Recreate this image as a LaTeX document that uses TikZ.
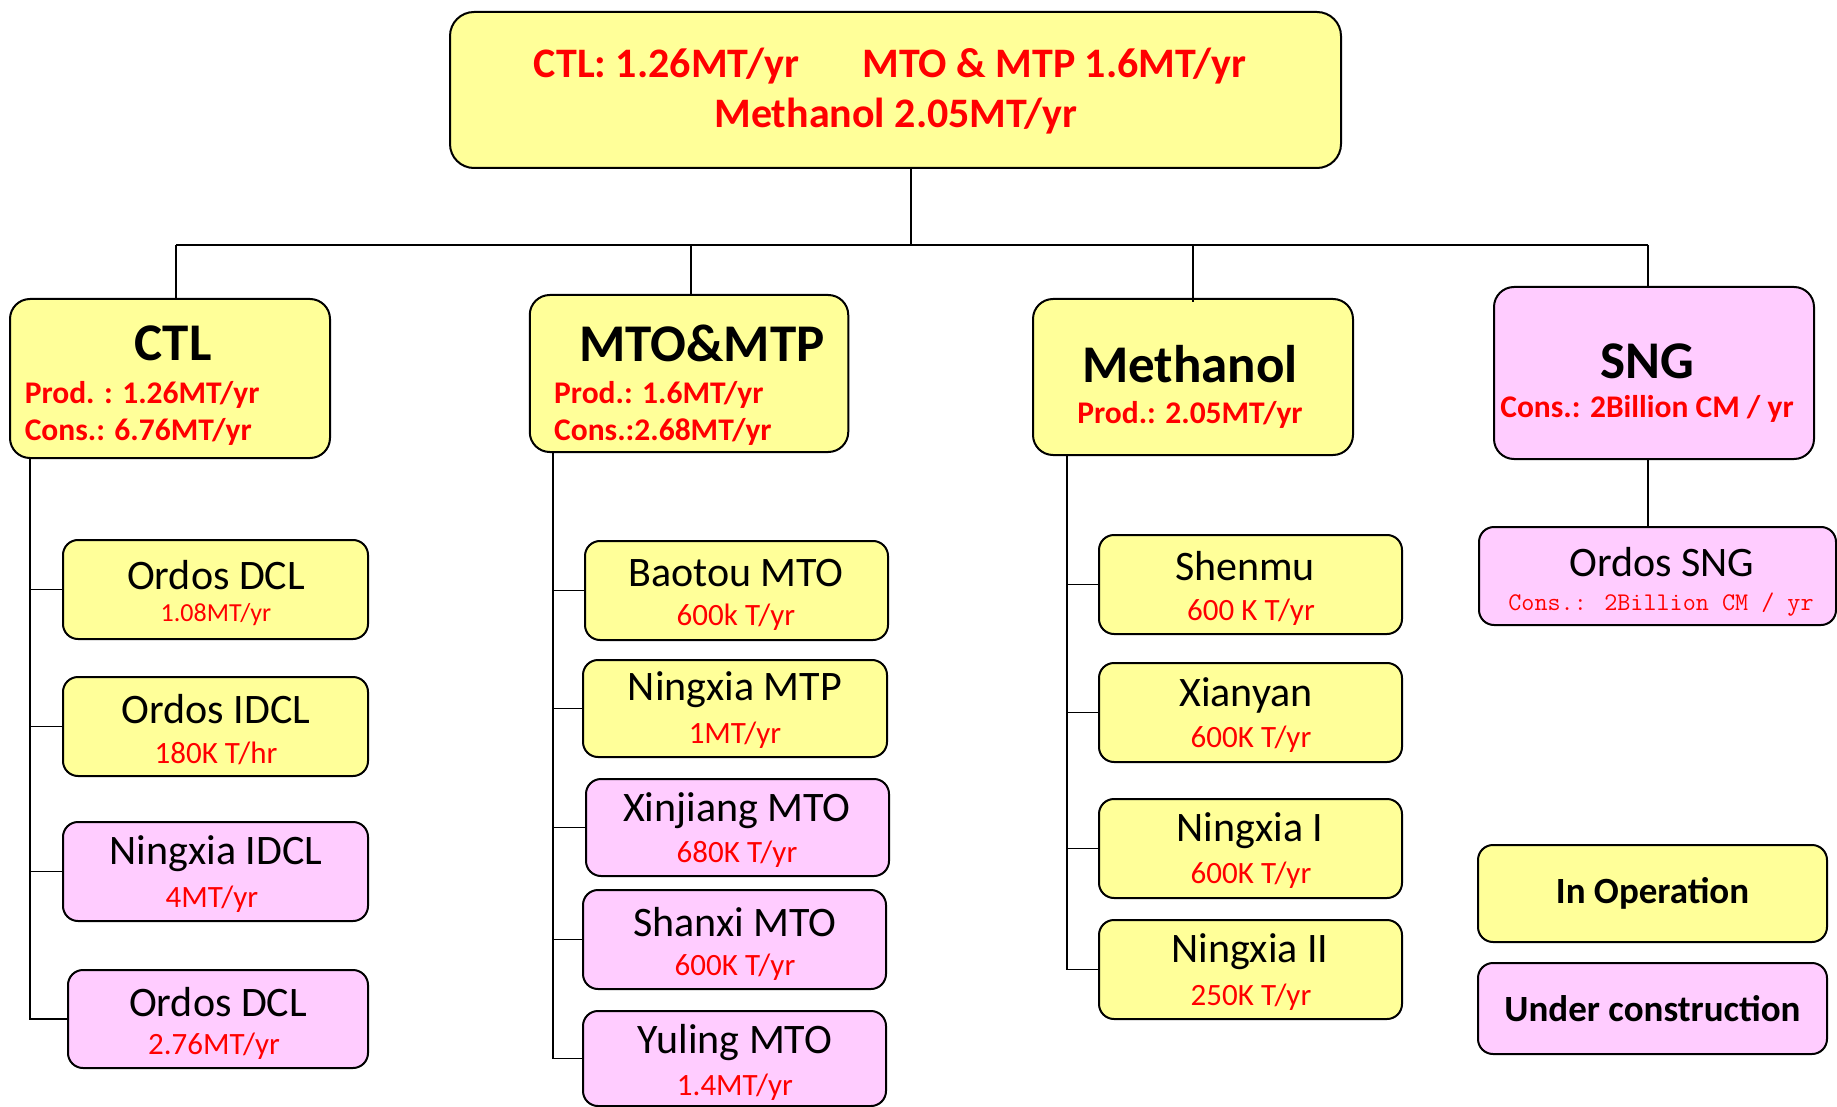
\documentclass[tikz,border=0pt]{standalone}
\usepackage{fontspec}
\setmainfont{Carlito}
\definecolor{ylw}{HTML}{FFFF99}
\definecolor{pnk}{HTML}{FFCCFF}
\definecolor{rd}{HTML}{FF0000}
\tikzset{
  box/.style={draw=black, line width=2pt, rounded corners=15pt, inner sep=0pt, outer sep=0pt},
  ybox/.style={box, fill=ylw},
  pbox/.style={box, fill=pnk},
  conn/.style={line width=1.3pt, draw=black},
  busline/.style={line width=2.3pt, draw=black},
  ttl/.style={font=\fontsize{42}{46}\selectfont, inner sep=0pt},
  subt/.style={font=\fontsize{31}{35}\selectfont, text=rd, inner sep=0pt},
  cattl/.style={font=\bfseries\fontsize{53}{58}\selectfont, inner sep=0pt},
  catsub/.style={font=\bfseries\fontsize{31.5}{35}\selectfont, text=rd, inner sep=0pt},
  toptxt/.style={font=\bfseries\fontsize{42}{46}\selectfont, text=rd, inner sep=0pt},
  legtxt/.style={font=\bfseries\fontsize{37}{41}\selectfont},
}
\begin{document}
\begin{tikzpicture}[x=1pt,y=-1pt]
\useasboundingbox[fill=white] (0,0) rectangle (1837,1107);

% top box
\node[ybox, rounded corners=24pt, minimum width=891pt, minimum height=156pt] (top) at (895.5,90) {};
\node[toptxt] (topa) at (666.5,66) {CTL: 1.26MT/yr};
\node[toptxt] (topb) at (1054.5,66) {MTO \& MTP 1.6MT/yr};
\node[toptxt] (topc) at (896,116) {Methanol 2.05MT/yr};

% category boxes
\node[ybox, rounded corners=20pt, minimum width=320pt, minimum height=159pt] (ctl) at (170,378.5) {};
\node[ybox, rounded corners=20pt, minimum width=318.5pt, minimum height=157pt] (mto) at (689,373.5) {};
\node[ybox, rounded corners=20pt, minimum width=320pt, minimum height=156pt] (meth) at (1193,377) {};
\node[pbox, rounded corners=20pt, minimum width=320pt, minimum height=172pt] (sng) at (1654,373) {};

\node[cattl] (ctlt) at (173,343) {CTL};
\node[catsub, anchor=west] (ctlp) at (24.6,395) {Prod. : 1.26MT/yr};
\node[catsub, anchor=west] (ctlc) at (24.6,432) {Cons.: 6.76MT/yr};

\node[cattl] (mtot) at (702,343) {MTO\&MTP};
\node[catsub, anchor=west] (mtop) at (554,395) {Prod.: 1.6MT/yr};
\node[catsub, anchor=west] (mtoc) at (554,432) {Cons.:2.68MT/yr};

\node[cattl] (metht) at (1190,364) {Methanol};
\node[catsub] (methp) at (1190,415) {Prod.: 2.05MT/yr};

\node[cattl] (sngt) at (1647,361) {SNG};
\node[catsub] (sngc) at (1647,409) {Cons.: 2Billion CM / yr};

% bus and drops
\coordinate (busL) at (176,245);
\coordinate (busR) at (1648,245);
\coordinate (topdrop) at (911,168);
\coordinate (mtodrop) at (691,245);
\coordinate (methdrop) at (1193,245);
\draw[busline] (busL) -- (busR);
\draw[conn] (topdrop) -- (topdrop |- busL);
\draw[conn] (busL) -- (busL |- ctl.north);
\draw[conn] (mtodrop) -- (mtodrop |- mto.north);
\draw[conn] (methdrop) -- ++(0,57);
\draw[conn] (busR) -- (busR |- sng.north);

% CTL children
\node[ybox, minimum width=305pt, minimum height=99pt] (c1) at (215.5,589.5) {};
\node[ybox, minimum width=305pt, minimum height=99pt] (c2) at (215.5,726.5) {};
\node[pbox, minimum width=305pt, minimum height=99pt] (c3) at (215.5,871.5) {};
\node[pbox, minimum width=300pt, minimum height=98pt] (c4) at (218,1019) {};
\node[ttl] (c1t) at (216,575) {Ordos DCL};
\node[subt, font=\fontsize{26}{30}\selectfont] (c1s) at (216,615) {1.08MT/yr};
\node[ttl] (c2t) at (216,709) {Ordos IDCL};
\node[subt] (c2s) at (216,753) {180K T/hr};
\node[ttl] (c3t) at (216,854) {Ningxia IDCL};
\node[subt] (c3s) at (212,899) {4MT/yr};
\node[ttl] (c4t) at (218,1002) {Ordos DCL};
\node[subt] (c4s) at (214,1046) {2.76MT/yr};

\coordinate (ctlsp) at (30,458);
\foreach \n in {c1,c2,c3,c4} \draw[conn] (ctlsp) |- (\n.west);

% MTO children
\node[ybox, minimum width=303pt, minimum height=99pt] (m1) at (736.5,590.5) {};
\node[ybox, minimum width=304pt, minimum height=97pt] (m2) at (735,708.5) {};
\node[pbox, minimum width=303pt, minimum height=97pt] (m3) at (737.5,827.5) {};
\node[pbox, minimum width=303pt, minimum height=99pt] (m4) at (734.5,939.5) {};
\node[pbox, minimum width=303pt, minimum height=95pt] (m5) at (734.5,1058.5) {};
\node[ttl] (m1t) at (736,573) {Baotou MTO};
\node[subt] (m1s) at (736,617) {600k T/yr};
\node[ttl] (m2t) at (735,690) {Ningxia MTP};
\node[subt] (m2s) at (735,735) {1MT/yr};
\node[ttl] (m3t) at (737,811) {Xinjiang MTO};
\node[subt] (m3s) at (737,854) {680K T/yr};
\node[ttl] (m4t) at (735,922) {Shanxi MTO};
\node[subt] (m4s) at (735,967) {600K T/yr};
\node[ttl] (m5t) at (735,1043) {Yuling MTO};
\node[subt] (m5s) at (735,1087) {1.4MT/yr};

\coordinate (mtosp) at (553,452);
\foreach \n in {m1,m2,m3,m4,m5} \draw[conn] (mtosp) |- (\n.west);

% Methanol children
\node[ybox, minimum width=303pt, minimum height=99pt] (e1) at (1250.5,584.5) {};
\node[ybox, minimum width=303pt, minimum height=99pt] (e2) at (1250.5,712.5) {};
\node[ybox, minimum width=303pt, minimum height=99pt] (e3) at (1250.5,848.5) {};
\node[ybox, minimum width=303pt, minimum height=99pt] (e4) at (1250.5,969.5) {};
\node[ttl] (e1t) at (1245,566) {Shenmu};
\node[subt] (e1s) at (1251,612) {600 K T/yr};
\node[ttl] (e2t) at (1246,695) {Xianyan};
\node[subt] (e2s) at (1251,739) {600K T/yr};
\node[ttl] (e3t) at (1250,831) {Ningxia I};
\node[subt] (e3s) at (1251,875) {600K T/yr};
\node[ttl] (e4t) at (1250,952) {Ningxia II};
\node[subt] (e4s) at (1251,997) {250K T/yr};

\coordinate (methsp) at (1067,455);
\foreach \n in {e1,e2,e3,e4} \draw[conn] (methsp) |- (\n.west);

% SNG child
\node[pbox, minimum width=357pt, minimum height=98pt] (s1) at (1657.5,576) {};
\node[ttl] (s1t) at (1662,562) {Ordos SNG};
\node[text=rd, inner sep=0pt, font=\ttfamily\fontsize{25.4}{29}\selectfont] (s1s) at (1661,605) {Cons.: 2Billion CM / yr};
\draw[conn] (busR |- sng.south) -- (busR |- s1.north);

% legend
\node[ybox, minimum width=349pt, minimum height=97pt, legtxt] (leg1) at (1652.5,893.5) {In Operation};
\node[pbox, minimum width=349pt, minimum height=91pt, legtxt] (leg2) at (1652.5,1008.5) {Under construction};
\end{tikzpicture}
\end{document}
